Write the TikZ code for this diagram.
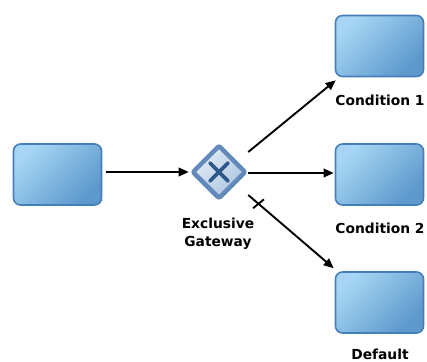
\documentclass[tikz,border=0pt]{standalone}
\usepackage{fontspec}
\setmainfont{DejaVu Sans}
\usetikzlibrary{shapes.geometric,arrows.meta,calc}
\definecolor{boxlight}{RGB}{166,214,243}
\definecolor{boxdark}{RGB}{92,152,204}
\definecolor{boxedge}{RGB}{70,126,188}
\definecolor{gwedge}{RGB}{98,137,186}
\definecolor{gwlight}{RGB}{226,236,246}
\definecolor{gwdark}{RGB}{170,196,224}
\definecolor{gwx}{RGB}{44,88,140}
\tikzset{
  task/.style={draw=boxedge, line width=1.6bp, rounded corners=7bp,
    minimum width=88bp, minimum height=61bp, inner sep=0pt,
    top color=boxlight, bottom color=boxdark, shading angle=45},
  gateway/.style={diamond, draw=gwedge, line width=4.5bp, rounded corners=2bp,
    minimum width=54bp, minimum height=54bp, inner sep=0pt, aspect=1,
    top color=gwlight, bottom color=gwdark, shading angle=45},
  lbl/.style={font=\bfseries\fontsize{13.8bp}{18bp}\selectfont, align=center, inner sep=0pt},
  flow/.style={line width=1.9bp, -{Triangle[length=10bp,width=8.5bp]}},
  slash/.style={line width=1.9bp}
}
\begin{document}
\begin{tikzpicture}[x=1bp,y=-1bp]
\useasboundingbox (0,0) rectangle (427,362);
\node[task] (src) at (57.5,174.5) {};
\node[gateway] (gw) at (219,172) {};
\draw[gwx, line width=3.6bp, line cap=round] ($(gw.center)+(-9,-9)$) -- ($(gw.center)+(9,9)$)
  ($(gw.center)+(-9,9)$) -- ($(gw.center)+(9,-9)$);
\node[task] (c1) at (379.5,46) {};
\node[task] (c2) at (379.5,174.5) {};
\node[task] (def) at (379.5,302.5) {};
\node[lbl] (gwl) at (218,234) {Exclusive\\Gateway};
\node[lbl] (c1l) at (380,100) {Condition 1};
\node[lbl] (c2l) at (380,228) {Condition 2};
\node[lbl] (defl) at (380,354) {Default};
\coordinate (o1) at ($(gw.east)+(0,-20)$);
\coordinate (o2) at ($(gw.east)+(0,1)$);
\coordinate (o3) at ($(gw.east)+(0,23)$);
\coordinate (t3) at ($(def.north west)+(-1,-3)$);
\coordinate (m3) at ($(o3)!0.12!(t3)$);
\draw[flow, shorten <=4bp, shorten >=1bp] (src.east |- gw.west) -- (gw.west);
\draw[flow] (o1) -- ($(c1.south west)+(1,3)$);
\draw[flow] (o2) -- ($(c2.west |- o2)+(-1,0)$);
\draw[flow] (o3) -- (t3);
\draw[slash] ($(m3)!7bp!80:(t3)$) -- ($(m3)!7bp!-100:(t3)$);
\end{tikzpicture}
\end{document}
